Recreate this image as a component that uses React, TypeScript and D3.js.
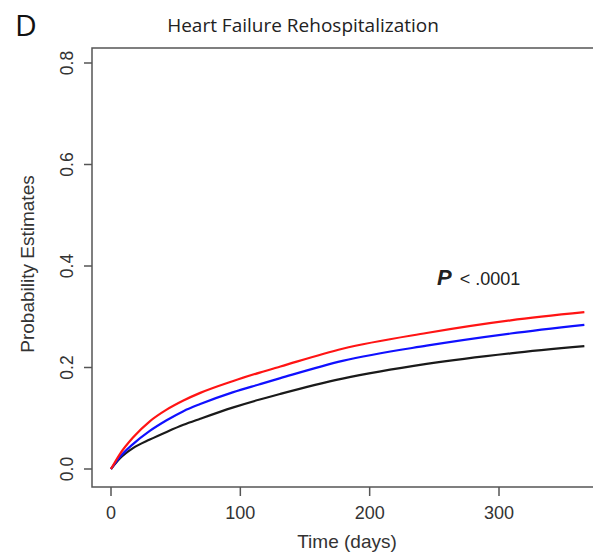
import React from "react";
import * as d3 from "d3";

// Cumulative incidence of heart failure rehospitalization by group
const days = [0, 7, 17, 30, 43, 56, 69, 94, 115, 131, 179, 244, 309, 366];
const redSeries = [0, 0.03, 0.062, 0.094, 0.117, 0.135, 0.15, 0.173, 0.19, 0.202, 0.237, 0.268, 0.293, 0.309];
const blueSeries = [0, 0.024, 0.049, 0.075, 0.096, 0.114, 0.128, 0.151, 0.167, 0.179, 0.213, 0.243, 0.267, 0.284];
const blackSeries = [0, 0.021, 0.041, 0.058, 0.073, 0.087, 0.099, 0.121, 0.137, 0.148, 0.178, 0.207, 0.228, 0.242];

const xTicks = [0, 100, 200, 300];
const yTicks = [0, 0.2, 0.4, 0.6, 0.8];

const series = [
  { name: "black", color: "#1a1a1a", values: blackSeries },
  { name: "blue", color: "#1010ff", values: blueSeries },
  { name: "red", color: "#ff1414", values: redSeries },
];

const W = 593;
const H = 554;
const box = { left: 92, right: 594, top: 48, bottom: 487 };

export default function App() {
  const x = d3.scaleLinear().domain([0, 300]).range([111, 499]);
  const y = d3.scaleLinear().domain([0, 0.8]).range([469, 63]);
  const line = d3
    .line<number>()
    .x((_, i) => x(days[i]))
    .y((v) => y(v))
    .curve(d3.curveMonotoneX);

  const axisColor = "#555";
  const textColor = "#333";
  const font = "'Liberation Sans', Arial, sans-serif";

  return (
    <svg
      width={W}
      height={H}
      style={{ position: "absolute", left: 0, top: 0, background: "#fff" }}
    >
      <text x={15} y={36} fontFamily="'Open Sans', sans-serif" fontSize={30} fill="#111">
        D
      </text>
      <text
        x={303}
        y={32}
        textAnchor="middle"
        fontFamily="'Open Sans', sans-serif"
        fontSize={19}
        fill="#222"
      >
        Heart Failure Rehospitalization
      </text>

      {/* plot frame */}
      <rect
        x={box.left}
        y={box.top}
        width={box.right - box.left}
        height={box.bottom - box.top}
        fill="none"
        stroke={axisColor}
        strokeWidth={1.5}
      />

      {/* y axis */}
      {yTicks.map((t) => (
        <g key={`y${t}`}>
          <line x1={box.left - 8} x2={box.left} y1={y(t)} y2={y(t)} stroke={axisColor} strokeWidth={1.5} />
          <text
            transform={`translate(${box.left - 19},${y(t)}) rotate(-90)`}
            textAnchor="middle"
            fontFamily={font}
            fontSize={17.5}
            fill={textColor}
          >
            {t.toFixed(1)}
          </text>
        </g>
      ))}
      <text
        transform={`translate(34,264) rotate(-90)`}
        textAnchor="middle"
        fontFamily={font}
        fontSize={19}
        fill={textColor}
      >
        Probability Estimates
      </text>

      {/* x axis */}
      {xTicks.map((t) => (
        <g key={`x${t}`}>
          <line x1={x(t)} x2={x(t)} y1={box.bottom} y2={box.bottom + 9} stroke={axisColor} strokeWidth={1.5} />
          <text
            x={x(t)}
            y={518.5}
            textAnchor="middle"
            fontFamily={font}
            fontSize={18}
            fill={textColor}
          >
            {t}
          </text>
        </g>
      ))}
      <text x={347} y={548} textAnchor="middle" fontFamily={font} fontSize={19} fill={textColor}>
        Time (days)
      </text>

      {/* curves */}
      {series.map((s) => (
        <path key={s.name} d={line(s.values) || ""} fill="none" stroke={s.color} strokeWidth={2.2} />
      ))}

      <text x={437} y={285} fontFamily={font} fill="#222">
        <tspan fontSize={22} fontWeight="bold" fontStyle="italic">
          P
        </tspan>
        <tspan fontSize={18} dx={8}>
          {"< .0001"}
        </tspan>
      </text>
    </svg>
  );
}
